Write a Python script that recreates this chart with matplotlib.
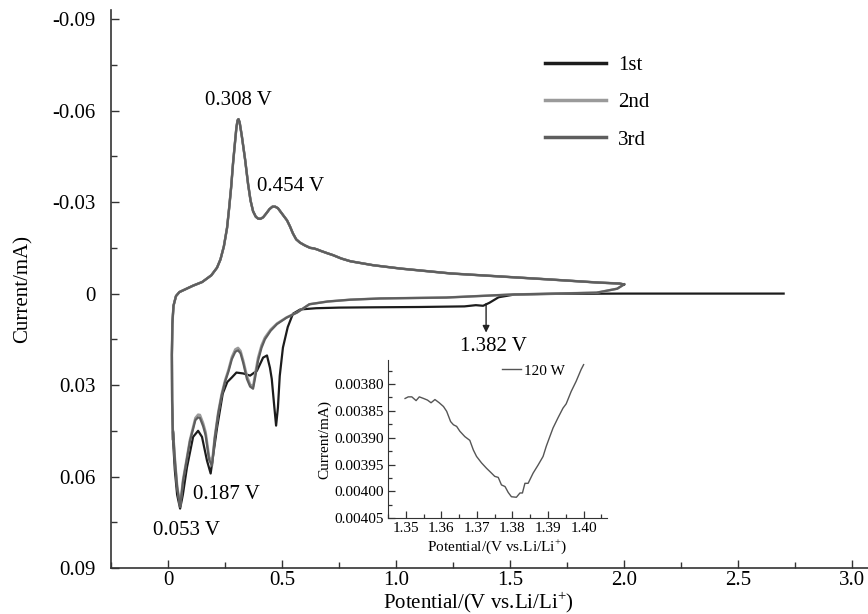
import matplotlib
matplotlib.use("Agg")
import matplotlib.pyplot as plt
from matplotlib.ticker import MultipleLocator

plt.rcParams['font.family'] = ['Liberation Serif', 'DejaVu Serif']
plt.rcParams['mathtext.fontset'] = 'custom'
plt.rcParams['mathtext.rm'] = 'Liberation Serif'

# ---- data (potential in V, current in mA) ----
# 1st cycle, cathodic scan from OCV
cath1_v = [2.70, 2.40, 2.00, 1.70, 1.52, 1.45, 1.41, 1.382, 1.35, 1.30, 1.10, 0.90,
           0.75, 0.65, 0.58, 0.548, 0.525, 0.504, 0.49, 0.482, 0.474, 0.466, 0.455,
           0.447, 0.434, 0.417, 0.39, 0.36, 0.33, 0.30, 0.28, 0.26, 0.24, 0.215,
           0.20, 0.187, 0.171, 0.149, 0.132, 0.11, 0.083, 0.065, 0.053, 0.04, 0.03, 0.022]
cath1_i = [0.0, 0.0, 0.0, 0.0001, 0.0003, 0.0012, 0.0030, 0.0040, 0.0038, 0.0042,
           0.0044, 0.0045, 0.0046, 0.0048, 0.0052, 0.0066, 0.011, 0.0177, 0.027,
           0.0374, 0.0433, 0.037, 0.028, 0.0243, 0.0203, 0.021, 0.0253, 0.0269,
           0.0262, 0.0259, 0.0275, 0.029, 0.0328, 0.044, 0.052, 0.059, 0.0548,
           0.047, 0.045, 0.047, 0.057, 0.066, 0.0705, 0.066, 0.058, 0.048]

# 2nd and 3rd cycles, cathodic scan from 2.0 V
cath_v = [2.00, 1.97, 1.88, 1.70, 1.51, 1.22, 0.93, 0.80, 0.70, 0.62, 0.566, 0.52,
          0.478, 0.45, 0.425, 0.41, 0.395, 0.383, 0.373, 0.36, 0.346, 0.33, 0.318,
          0.307, 0.295, 0.28, 0.265, 0.25, 0.235, 0.22, 0.205, 0.193, 0.18, 0.165,
          0.154, 0.14, 0.132, 0.12, 0.096, 0.08, 0.066, 0.053, 0.04, 0.031, 0.022]
cath2_i = [-0.003, -0.0016, -0.0003, 0.0, 0.0003, 0.0013, 0.0016, 0.002, 0.0026,
           0.0035, 0.0062, 0.0078, 0.0098, 0.0118, 0.0144, 0.017, 0.021, 0.026,
           0.0305, 0.0298, 0.027, 0.022, 0.0188, 0.0178, 0.0183, 0.0208, 0.025,
           0.0285, 0.033, 0.039, 0.047, 0.0555, 0.0535, 0.0455, 0.0425, 0.0398,
           0.0397, 0.0408, 0.048, 0.055, 0.061, 0.0695, 0.063, 0.055, 0.045]
cath3_i = [-0.003, -0.0016, -0.0003, 0.0, 0.0003, 0.0013, 0.0016, 0.002, 0.0026,
           0.0035, 0.0062, 0.0079, 0.0100, 0.0122, 0.0150, 0.0178, 0.022, 0.0272,
           0.0312, 0.0305, 0.028, 0.0228, 0.0196, 0.0186, 0.0191, 0.0215, 0.0256,
           0.029, 0.0335, 0.0395, 0.0475, 0.0565, 0.0545, 0.0465, 0.0435, 0.0408,
           0.0406, 0.0415, 0.0485, 0.0555, 0.0615, 0.070, 0.0635, 0.0555, 0.0455]

# anodic scan back to 2.0 V (the three cycles overlap)
anod_v = [0.022, 0.018, 0.017, 0.019, 0.024, 0.035, 0.05, 0.07, 0.11, 0.15, 0.19,
          0.215, 0.23, 0.245, 0.259, 0.268, 0.277, 0.285, 0.293, 0.300, 0.305,
          0.309, 0.314, 0.324, 0.338, 0.351, 0.362, 0.373, 0.385, 0.395, 0.405,
          0.417, 0.43, 0.445, 0.458, 0.47, 0.482, 0.495, 0.51, 0.522, 0.535,
          0.548, 0.562, 0.579, 0.60, 0.623, 0.64, 0.653, 0.67, 0.70, 0.724, 0.76,
          0.80, 0.90, 1.02, 1.24, 1.46, 1.68, 1.89, 1.98, 2.00]
anod_i = [0.048, 0.035, 0.02, 0.010, 0.004, 0.0008, -0.0005, -0.0012, -0.0026,
          -0.0038, -0.0060, -0.0085, -0.0112, -0.0155, -0.0216, -0.028, -0.035,
          -0.0426, -0.049, -0.0545, -0.0568, -0.0572, -0.0562, -0.0515, -0.0440,
          -0.036, -0.0305, -0.027, -0.0252, -0.0246, -0.0245, -0.025, -0.0262,
          -0.0277, -0.0285, -0.0285, -0.028, -0.0267, -0.0252, -0.024, -0.022,
          -0.0197, -0.0178, -0.0167, -0.0158, -0.015, -0.0148, -0.0145, -0.014,
          -0.0132, -0.0126, -0.0115, -0.0106, -0.0093, -0.0082, -0.0066, -0.0056,
          -0.0046, -0.0036, -0.0033, -0.003]

# inset: zoom on the 1.382 V feature of the 1st cycle
ins_v = [1.3498, 1.3507, 1.3517, 1.3529, 1.3538, 1.3550, 1.3561, 1.3571, 1.3582,
         1.3594, 1.3606, 1.3615, 1.3626, 1.3634, 1.3643, 1.3652, 1.3666, 1.3680,
         1.3690, 1.3699, 1.3713, 1.3727, 1.3741, 1.3750, 1.3760, 1.3769, 1.3779,
         1.3788, 1.3797, 1.3811, 1.3821, 1.3828, 1.3835, 1.3844, 1.3858, 1.3872,
         1.3886, 1.3895, 1.3905, 1.3914, 1.3928, 1.3942, 1.3951, 1.3965, 1.3979,
         1.3993, 1.4000]
ins_i = [0.003827, 0.003824, 0.003824, 0.003831, 0.003824, 0.003827, 0.003830,
         0.003835, 0.003829, 0.003835, 0.003842, 0.003851, 0.003870, 0.003876,
         0.003879, 0.003888, 0.003898, 0.003905, 0.003923, 0.003935, 0.003947,
         0.003957, 0.003966, 0.003972, 0.003974, 0.003988, 0.003991, 0.004002,
         0.004010, 0.004011, 0.004003, 0.004003, 0.003985, 0.003985, 0.003966,
         0.003951, 0.003935, 0.003916, 0.003898, 0.003882, 0.003863, 0.003845,
         0.003837, 0.003814, 0.003795, 0.003773, 0.003764]

labels = ["1st", "2nd", "3rd"]
colors = ["#1c1c1c", "#9a9a9a", "#5e5e5e"]

fig = plt.figure(figsize=(8.68, 6.14), dpi=100)
ax = fig.add_axes([0.1279, 0.0749, 0.8721, 0.9088])

ax.plot(cath1_v + anod_v, cath1_i + anod_i, color=colors[0], lw=1.6, label=labels[0])
ax.plot(cath_v + anod_v, cath2_i + anod_i, color=colors[1], lw=1.8, label=labels[1])
ax.plot(cath_v + anod_v, cath3_i + anod_i, color=colors[2], lw=1.6, label=labels[2])

ax.set_xlim(-0.25, 3.07)
ax.set_ylim(0.09, -0.093)
ax.xaxis.set_minor_locator(MultipleLocator(0.25))
ax.yaxis.set_minor_locator(MultipleLocator(0.015))
ax.set_xticks([0, 0.5, 1.0, 1.5, 2.0, 2.5, 3.0])
ax.set_xticklabels(["0", "0.5", "1.0", "1.5", "2.0", "2.5", "3.0"])
ax.set_yticks([-0.09, -0.06, -0.03, 0, 0.03, 0.06, 0.09])
ax.set_yticklabels(["-0.09", "-0.06", "-0.03", "0", "0.03", "0.06", "0.09"])
ax.tick_params(which='both', direction='in', labelsize=15, color='#333333')
ax.tick_params(which='major', length=6, width=1)
ax.tick_params(which='minor', length=4, width=1)
ax.tick_params(axis='y', pad=11)
ax.tick_params(axis='x', pad=2)
for s in ['top', 'right']:
    ax.spines[s].set_visible(False)
for s in ['left', 'bottom']:
    ax.spines[s].set_color('#333333')
    ax.spines[s].set_linewidth(1.2)

ax.set_xlabel("Potential/(V vs.Li/Li$^{+}$)", fontsize=15, va='center')
ax.xaxis.set_label_coords(0.485, -0.061)
ax.set_ylabel("Current/mA)", fontsize=15)
ax.yaxis.set_label_coords(-0.103, 0.5)

leg = ax.legend(loc='upper left', bbox_to_anchor=(0.549, 0.952), frameon=False,
                fontsize=15, handlelength=2.9, handletextpad=0.6, labelspacing=0.85)
for ln in leg.get_lines():
    ln.set_linewidth(2.5)

ax.text(0.162, -0.0633, "0.308 V", fontsize=15, va='center', ha='left')
ax.text(0.39, -0.0351, "0.454 V", fontsize=15, va='center', ha='left')
ax.text(0.11, 0.0659, "0.187 V", fontsize=15, va='center', ha='left')
ax.text(-0.066, 0.0777, "0.053 V", fontsize=15, va='center', ha='left')
ax.text(1.28, 0.0174, "1.382 V", fontsize=15, va='center', ha='left')
ax.annotate("", xy=(1.395, 0.0128), xytext=(1.395, 0.0033),
            arrowprops=dict(arrowstyle='-|>', color='#222222', lw=1.0,
                            mutation_scale=10, shrinkA=0, shrinkB=0))

# inset
axi = fig.add_axes([0.447, 0.156, 0.252, 0.258])
axi.plot(ins_v, ins_i, color='#555555', lw=1.0, label="120 W")
axi.set_xlim(1.345, 1.4065)
axi.set_ylim(0.004050, 0.003755)
axi.set_xticks([1.35, 1.36, 1.37, 1.38, 1.39, 1.40])
axi.set_xticklabels(["1.35", "1.36", "1.37", "1.38", "1.39", "1.40"])
axi.xaxis.set_minor_locator(MultipleLocator(0.005))
axi.set_yticks([0.00380, 0.00385, 0.00390, 0.00395, 0.00400, 0.00405])
axi.set_yticklabels(["0.00380", "0.00385", "0.00390", "0.00395", "0.00400", "0.00405"])
axi.yaxis.set_minor_locator(MultipleLocator(0.000025))
axi.tick_params(which='both', direction='in', labelsize=11, color='#333333', pad=3)
axi.tick_params(which='major', length=5, width=0.9)
axi.tick_params(which='minor', length=3, width=0.9)
for s in ['top', 'right']:
    axi.spines[s].set_visible(False)
for s in ['left', 'bottom']:
    axi.spines[s].set_color('#333333')
axi.patch.set_alpha(0)
axi.set_xlabel("Potential/(V vs.Li/Li$^{+}$)", fontsize=11, labelpad=1)
axi.set_ylabel("Current/mA)", fontsize=11, labelpad=2)
axi.legend(loc='upper right', bbox_to_anchor=(0.87, 1.06), frameon=False, fontsize=11,
           handlelength=1.2, handletextpad=0.2)

fig.savefig("out.png", dpi=100)
